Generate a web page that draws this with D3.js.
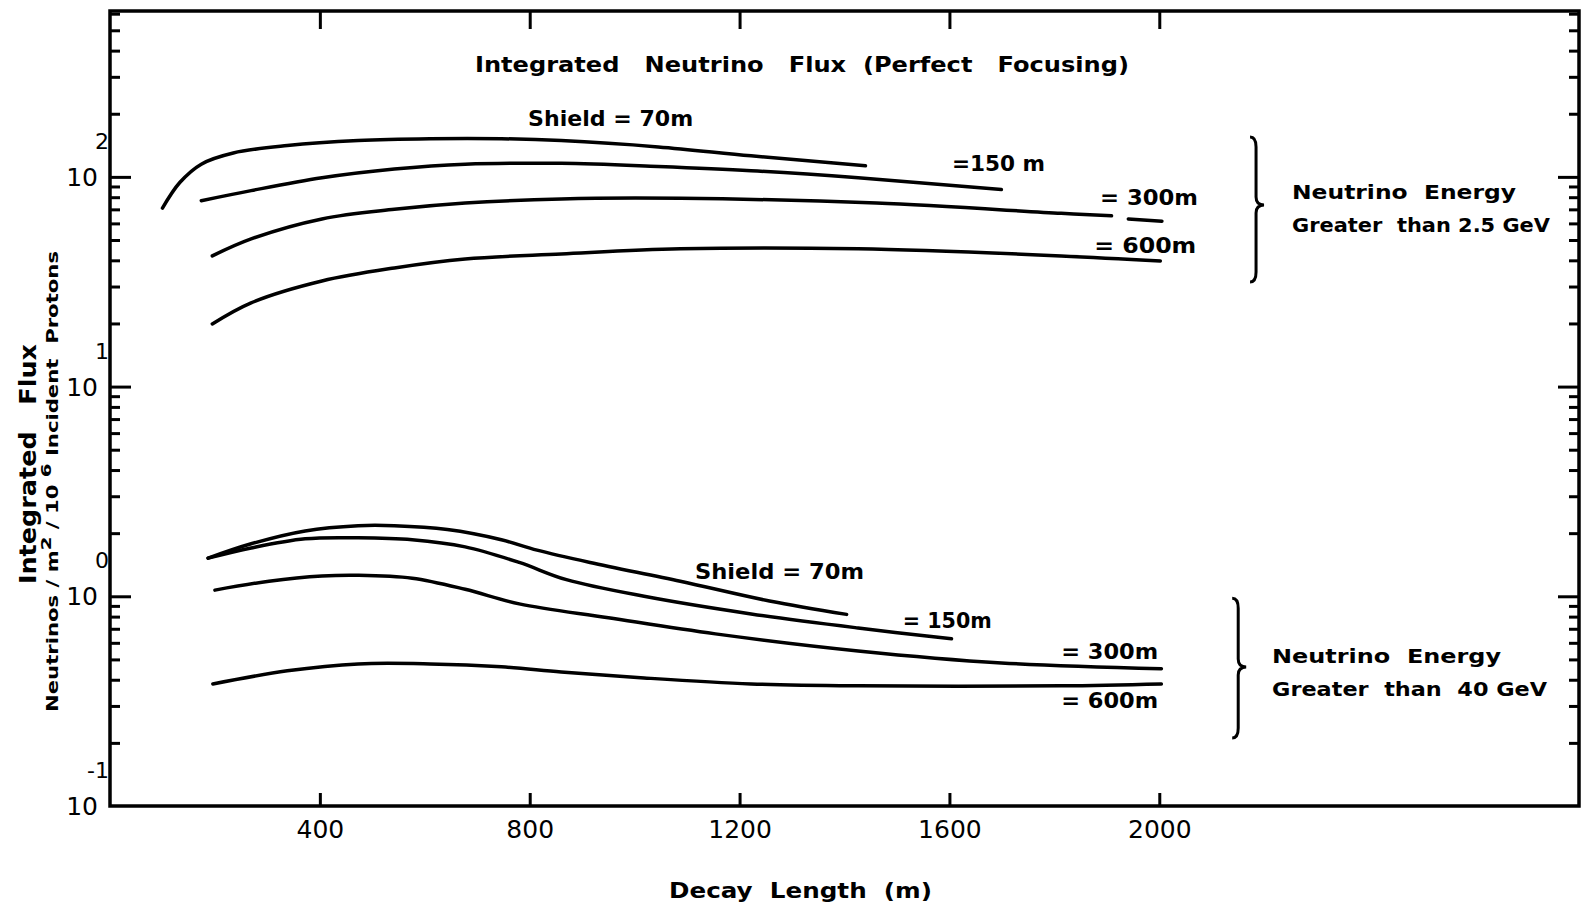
<!DOCTYPE html>
<html><head><meta charset="utf-8">
<script src="https://cdn.jsdelivr.net/npm/d3@7"></script>
<style>
body{margin:0;background:#fff}
text{font-family:"DejaVu Sans",sans-serif;fill:#000;white-space:pre}
</style>
</head><body>
<svg id="c" width="1585" height="911"></svg>
<script>
// ---------------- data ----------------
const xTickValues = [400, 800, 1200, 1600, 2000];
const decadeValues = [0.1, 1, 10, 100];
const decadeExponents = ["-1", "0", "1", "2"];

// Neutrino energy > 2.5 GeV  [decay length (m), flux]
const hiShield70  = [[100,71],[133,94],[174,115],[235,130],[338,141],[473,149],[610,152],[746,152],[860,149],[1045,139],[1222,126],[1440,113]];
const hiShield150 = [[174,77],[269,86],[404,99],[542,109],[677,115],[860,116],[1045,112],[1222,107],[1426,99],[1699,87]];
const hiShield300 = [[195,42],[269,50.6],[404,63],[542,70],[677,75],[860,78.5],[1087,79],[1461,75],[1813,67],[1909,65.2],[1925,null],[1941,63],[2005,61.5]];
const hiShield600 = [[195,19.9],[269,25.1],[404,31.9],[542,36.8],[677,40.6],[860,42.9],[1087,45.4],[1426,45.4],[1813,42],[2002,39.7]];

// Neutrino energy > 40 GeV
const loShield70  = [[187,1.52],[269,1.78],[372,2.05],[473,2.17],[542,2.17],[643,2.08],[746,1.86],[814,1.66],[915,1.45],[1087,1.18],[1257,0.95],[1404,0.82]];
const loShield150 = [[187,1.52],[269,1.70],[372,1.88],[473,1.90],[576,1.86],[677,1.72],[780,1.45],[870,1.20],[1018,1.00],[1222,0.824],[1426,0.706],[1604,0.627]];
const loShield300 = [[200,1.07],[303,1.18],[404,1.25],[473,1.26],[576,1.22],[677,1.08],[780,0.92],[950,0.79],[1154,0.662],[1426,0.549],[1699,0.481],[2004,0.451]];
const loShield600 = [[196,0.382],[338,0.441],[473,0.476],[610,0.476],[746,0.461],[860,0.436],[1018,0.408],[1222,0.382],[1426,0.374],[1813,0.374],[2004,0.382]];

const curveLabelsHi = ["Shield = 70m", "=150 m", "= 300m", "= 600m"];
const curveLabelsLo = ["Shield = 70m", "= 150m", "= 300m", "= 600m"];
const groupLabelsHi = ["Neutrino  Energy", "Greater  than 2.5 GeV"];
const groupLabelsLo = ["Neutrino  Energy", "Greater  than  40 GeV"];
const titleText = "Integrated   Neutrino   Flux  (Perfect   Focusing)";
const xTitle = "Decay  Length  (m)";
const yTitle = "Integrated   Flux";

// ---------------- layout ----------------
const xMax = 2800, yMin = 0.1, yMax = 618;
const x = d3.scaleLinear().domain([0, xMax]).range([110, 1579]);
const y = d3.scaleLog().domain([yMin, yMax]).range([806, 11]);
const svg = d3.select("#c");

// frame
svg.append("rect")
  .attr("x", x(0)).attr("y", y(yMax))
  .attr("width", x(xMax) - x(0)).attr("height", y(yMin) - y(yMax))
  .attr("fill", "none").attr("stroke", "#000").attr("stroke-width", 3.5);

// y ticks
const allTicks = y.ticks().filter(v => v > yMin && v < yMax);
const major = allTicks.filter(v => decadeValues.includes(v));
const minor = allTicks.filter(v => !decadeValues.includes(v));
function styleAxis(g){ g.select(".domain").remove(); g.selectAll("line").attr("stroke","#000").attr("stroke-width",3); g.selectAll("text").remove(); }
svg.append("g").attr("transform",`translate(${x(0)},0)`).call(d3.axisRight(y).tickValues(minor).tickSize(10).tickFormat("")).call(styleAxis);
svg.append("g").attr("transform",`translate(${x(0)},0)`).call(d3.axisRight(y).tickValues(major).tickSize(21).tickFormat("")).call(styleAxis);
svg.append("g").attr("transform",`translate(${x(xMax)},0)`).call(d3.axisLeft(y).tickValues(minor).tickSize(10).tickFormat("")).call(styleAxis);
svg.append("g").attr("transform",`translate(${x(xMax)},0)`).call(d3.axisLeft(y).tickValues(major).tickSize(21).tickFormat("")).call(styleAxis);

// x ticks
svg.append("g").attr("transform",`translate(0,${y(yMax)})`).call(d3.axisBottom(x).tickValues(xTickValues).tickSize(18).tickFormat("")).call(styleAxis);
const gx = svg.append("g").attr("transform",`translate(0,${y(yMin)})`)
  .call(d3.axisBottom(x).tickValues(xTickValues).tickSizeInner(-13).tickSizeOuter(0).tickPadding(14).tickFormat(d3.format("d")));
gx.select(".domain").remove();
gx.selectAll("line").attr("stroke","#000").attr("stroke-width",3);
gx.selectAll("text").attr("font-family","DejaVu Sans").attr("font-size",25).attr("fill","#000");

// y tick labels (10 with superscript)
decadeValues.forEach((d,i) => {
  svg.append("text").attr("x", 98).attr("y", y(d) + 9).attr("text-anchor","end")
    .attr("font-size", 25).text("10");
  svg.append("text").attr("x", 109).attr("y", y(d) - 28).attr("text-anchor","end")
    .attr("font-size", 22).text(decadeExponents[i]);
});

// curves
const line = d3.line().defined(d => d[1] != null).x(d => x(d[0])).y(d => y(d[1])).curve(d3.curveCatmullRom.alpha(0.5));
[hiShield70, hiShield150, hiShield300, hiShield600, loShield70, loShield150, loShield300, loShield600].forEach(s => {
  svg.append("path").attr("d", line(s)).attr("fill","none").attr("stroke","#000")
    .attr("stroke-width", 3.5).attr("stroke-linecap","round").attr("stroke-linejoin","round");
});

// annotation helper: anchor in data units
function label(t, dx, dy, len, size, weight){
  const el = svg.append("text").attr("x", x(dx)).attr("y", y(dy)).attr("font-size", size)
    .attr("font-weight", weight || "bold").text(t);
  if (len) el.attr("textLength", len).attr("lengthAdjust","spacingAndGlyphs");
  return el;
}
const hiPos = [[797,175,165],[1605,107,93],[1887,73.5,98],[1876,43.4,102]];
curveLabelsHi.forEach((t,i) => label(t, hiPos[i][0], hiPos[i][1], hiPos[i][2], 21));
const loPos = [[1115,1.21,169],[1511,0.706,89],[1813,0.502,97],[1813,0.293,97]];
curveLabelsLo.forEach((t,i) => label(t, loPos[i][0], loPos[i][1], loPos[i][2], 21));

// group labels
label(groupLabelsHi[0], 2253, 78.5, 224, 20);
label(groupLabelsHi[1], 2253, 54.6, 258, 20);
label(groupLabelsLo[0], 2215, 0.481, 229, 20);
label(groupLabelsLo[1], 2215, 0.334, 275, 20);

// braces
function brace(dx, yTop, yMid, yBot){
  const bx = x(dx), t = y(yTop), m = y(yMid), b = y(yBot);
  const p = d3.path();
  p.moveTo(bx, t);
  p.quadraticCurveTo(bx+6, t, bx+6, t+10);
  p.lineTo(bx+6, m-8);
  p.quadraticCurveTo(bx+6, m, bx+14, m);
  p.quadraticCurveTo(bx+6, m, bx+6, m+8);
  p.lineTo(bx+6, b-10);
  p.quadraticCurveTo(bx+6, b, bx, b);
  svg.append("path").attr("d", p.toString()).attr("fill","none").attr("stroke","#000").attr("stroke-width",3);
}
brace(2173, 155, 73.5, 31.5);
brace(2139, 0.98, 0.46, 0.211);

// titles
svg.append("text").attr("x", 475).attr("y", 72).attr("font-size", 21).attr("font-weight","bold")
  .attr("textLength", 654).attr("lengthAdjust","spacingAndGlyphs").text(titleText);
svg.append("text").attr("x", 669).attr("y", 898).attr("font-size", 22).attr("font-weight","bold")
  .attr("textLength", 263).attr("lengthAdjust","spacingAndGlyphs").text(xTitle);
svg.append("text").attr("transform","translate(36,584) rotate(-90)").attr("font-size", 23).attr("font-weight","bold")
  .attr("textLength", 240).attr("lengthAdjust","spacingAndGlyphs").text(yTitle);
const sub = svg.append("text").attr("transform","translate(58,712) rotate(-90)").attr("font-size", 15).attr("font-weight","bold")
  .attr("textLength", 461).attr("lengthAdjust","spacingAndGlyphs");
sub.append("tspan").text("Neutrinos / m");
sub.append("tspan").attr("dy",-7).attr("font-size",14).text("2");
sub.append("tspan").attr("dy",7).text(" / 10 ");
sub.append("tspan").attr("dy",-7).attr("font-size",14).text("6");
sub.append("tspan").attr("dy",7).text(" Incident  Protons");
</script>
</body></html>
